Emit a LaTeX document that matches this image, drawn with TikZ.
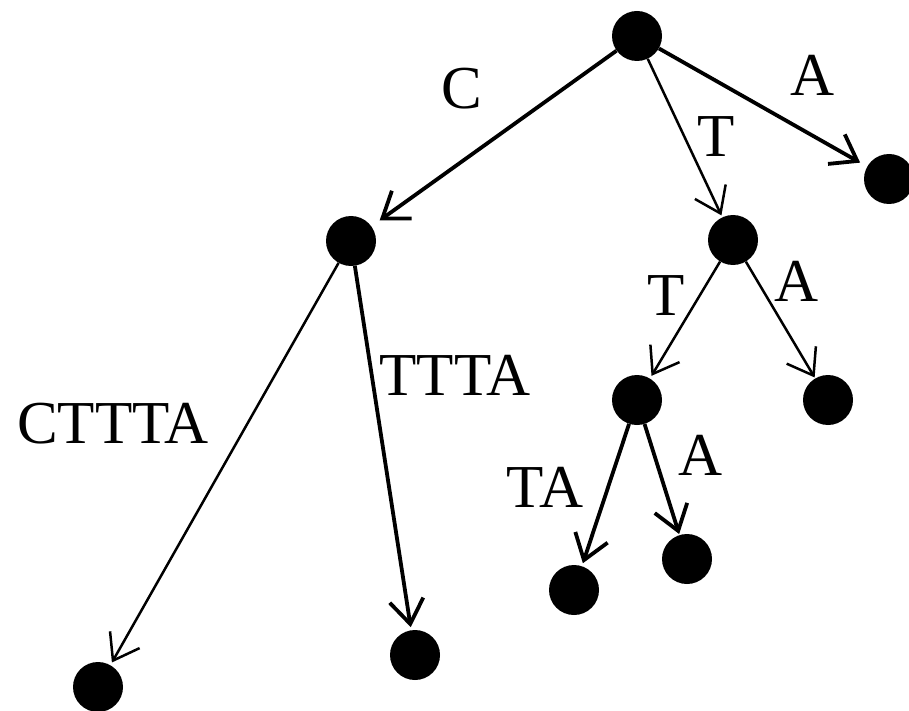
\documentclass[tikz,border=0pt]{standalone}
\usepackage{fontspec}
\setmainfont{Liberation Serif}
\usetikzlibrary{arrows.meta}

\tikzset{
  vertex/.style={circle, fill=black, draw=none, minimum size=50pt, inner sep=0pt},
  edgelabel/.style={inner sep=0pt, font=\fontsize{61}{70}\selectfont},
  edgebase/.style={-{Straight Barb[length=24pt,width=34pt]}, line cap=butt},
  thickedge/.style={edgebase, line width=3.8pt},
  thinedge/.style={edgebase, line width=2.5pt},
}

\begin{document}
\begin{tikzpicture}[x=1pt,y=-1pt]
  \useasboundingbox (0,0) rectangle (909,711);

  % tree vertices
  \node[vertex] (root)  at (637,36)  {};
  \node[vertex] (leafA) at (889,179) {};
  \node[vertex] (t)     at (733,240) {};
  \node[vertex] (c)     at (351,241) {};
  \node[vertex] (tA)    at (828,400) {};
  \node[vertex] (tt)    at (637,400) {};
  \node[vertex] (ttTA)  at (574,590) {};
  \node[vertex] (ttA)   at (687,559) {};
  \node[vertex] (cCTTTA) at (98,687) {};
  \node[vertex] (cTTTA) at (415,655) {};

  % edges
  \draw[thickedge, shorten >=10pt] (root) -- (c);
  \draw[thickedge, shorten >=8pt]  (root) -- (leafA);
  \draw[thinedge,  shorten >=2pt]  (root) -- (t);
  \draw[thinedge,  shorten >=3pt]  (t) -- (tt);
  \draw[thinedge,  shorten >=1pt]  (t) -- (tA);
  \draw[thickedge, shorten >=3pt]  (tt) -- (ttTA);
  \draw[thickedge, shorten >=1pt]  (tt) -- (ttA);
  \draw[thinedge,  shorten >=3pt]  (c) -- (cCTTTA);
  \draw[thickedge, shorten >=3pt]  (c) -- (cTTTA);

  % edge labels
  \node[edgelabel] (lC)     at (462,89)  {C};
  \node[edgelabel] (lA1)    at (813,75)  {A};
  \node[edgelabel] (lT1)    at (716,137) {T};
  \node[edgelabel] (lT2)    at (666,296) {T};
  \node[edgelabel] (lA2)    at (797,281) {A};
  \node[edgelabel] (lA3)    at (701,455) {A};
  \node[edgelabel] (lTA)    at (545,487) {TA};
  \node[edgelabel] (lTTTA)  at (455,375) {TTTA};
  \node[edgelabel] (lCTTTA) at (113,424) {CTTTA};
\end{tikzpicture}
\end{document}
